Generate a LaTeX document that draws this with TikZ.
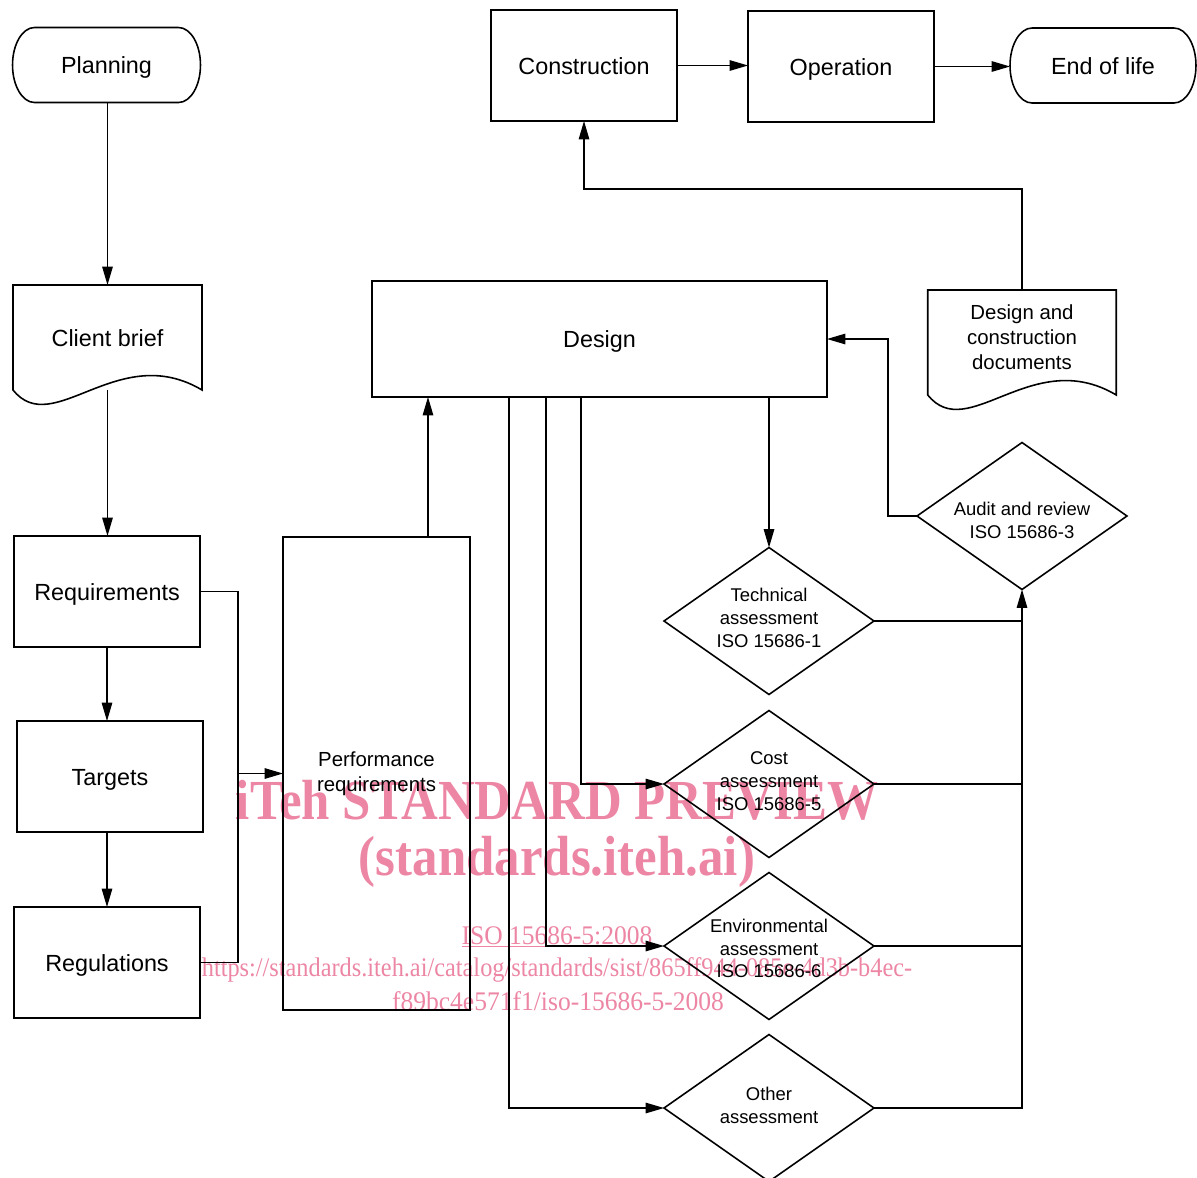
\documentclass[tikz,border=0pt]{standalone}
\usepackage{fontspec}
\setmainfont{Liberation Sans}
\newfontfamily\wmfont{Liberation Serif}
\usetikzlibrary{shapes.geometric,arrows.meta,calc}
\definecolor{wmpink}{RGB}{236,134,164}
\begin{document}
\begin{tikzpicture}[x=0.02cm,y=-0.02cm,
  every node/.style={inner sep=0pt,outer sep=0pt},
  conn/.style={line width=0.7pt},
  arr/.style={conn,-{Triangle[length=10.5pt,width=6pt]}},
  mainfont/.style={font=\fontsize{13.3}{16}\selectfont,text height=0.98em,text depth=0pt},
  boxnode/.style={draw,line width=0.9pt,rectangle,mainfont,minimum width=3.72cm,minimum height=2.22cm},
  termnode/.style={rectangle,mainfont,minimum width=3.76cm,minimum height=1.5cm},
  docnode/.style={rectangle,minimum width=3.77cm,minimum height=2.1cm},
  docfont/.style={align=center,font=\fontsize{11.6}{14.2}\selectfont},
  dia/.style={draw,line width=0.9pt,diamond,minimum width=4.2cm,minimum height=2.94cm},
  dialabel/.style={align=center,font=\fontsize{10.5}{13}\selectfont},
  wmbig/.style={text=wmpink,font=\wmfont\bfseries\fontsize{32.2}{34}\selectfont},
  wmsmall/.style={text=wmpink,font=\wmfont\fontsize{15.3}{17}\selectfont}
]
\useasboundingbox (0,0) rectangle (1197,1177);

% watermark (behind the diagram)
\node[wmbig] (wm1) at (557,800) {\scalebox{0.9}[1]{iTeh STANDARD PREVIEW}};
\node[wmbig] (wm2) at (557,862) {\scalebox{0.9}[1]{(standards.iteh.ai)}};
\node[wmsmall] (wm3) at (557,937) {\scalebox{0.95}[1]{\underline{ISO 15686-5:2008}}};
\node[wmsmall] (wm4) at (557,970) {\scalebox{0.905}[1]{https://standards.iteh.ai/catalog/standards/sist/865ff944-085e-4d3b-b4ec-}};
\node[wmsmall] (wm5) at (558,1001) {\scalebox{0.95}[1]{f89bc4e571f1/iso-15686-5-2008}};

% terminal shapes with elliptic ends
\node[termnode] (plan) at (106.5,65) {Planning};
\node[termnode,minimum width=3.72cm] (eol) at (1103,65.5) {End of life};
\foreach \n in {plan,eol}{
  \draw[line width=0.9pt] ([xshift=0.44cm]\n.north west) -- ([xshift=-0.44cm]\n.north east)
    arc[start angle=90,end angle=-90,x radius=0.44cm,y radius=0.75cm]
    -- ([xshift=0.44cm]\n.south west)
    arc[start angle=270,end angle=90,x radius=0.44cm,y radius=0.75cm] -- cycle;
}

% left column
\node[docnode,mainfont,minimum width=3.78cm] (cb) at (107.5,337.5) {Client brief};
\draw[line width=0.9pt] (cb.north west) -- (cb.south west)
  .. controls ($(cb.south west)+(40,50)$) and ($(cb.south east)+(-84,-50)$) .. (cb.south east)
  -- (cb.north east) -- cycle;
\node[boxnode] (req) at (107,591.5) {Requirements};
\node[boxnode] (tgt) at (110,776.5) {Targets};
\node[boxnode] (reg) at (107,962.5) {Regulations};
\node[draw,line width=0.9pt,rectangle,minimum width=3.74cm,minimum height=9.46cm,docfont] (perf) at (376.5,773.5) {Performance\\requirements};

% design and top row
\node[boxnode,minimum width=9.1cm,minimum height=2.32cm] (design) at (599.5,339) {Design};
\node[boxnode] (constr) at (584,65.5) {Construction};
\node[boxnode] (oper) at (841,66.5) {Operation};
\node[docnode,label={[docfont,yshift=0.1cm]center:Design and\\construction\\documents}] (docs) at (1022,342.5) {};
\draw[line width=0.9pt] (docs.north west) -- (docs.south west)
  .. controls ($(docs.south west)+(40,50)$) and ($(docs.south east)+(-84,-50)$) .. (docs.south east)
  -- (docs.north east) -- cycle;

% assessments
\node[dia,label={[dialabel,yshift=-0.08cm]center:Audit and review\\ISO 15686-3}] (aud) at (1022,516) {};
\node[dia,label={[dialabel,yshift=0.06cm]center:Technical\\assessment\\ISO 15686-1}] (tech) at (769,621) {};
\node[dia,label={[dialabel,yshift=0.06cm]center:Cost\\assessment\\ISO 15686-5}] (cost) at (769,784) {};
\node[dia,label={[dialabel,yshift=-0.05cm]center:Environmental\\assessment\\ISO 15686-6}] (env) at (769,946) {};
\node[dia,label={[dialabel,yshift=0.06cm]center:Other\\assessment}] (oth) at (769,1108) {};

% connectors
\draw[arr] (plan.south -| cb.north) -- (cb.north);
\draw[arr] (cb.south) -- (cb.south |- req.north);
\draw[arr] (req.south) -- (req.south |- tgt.north);
\draw[arr] (reg.north |- tgt.south) -- (reg.north);
\coordinate (bus) at (238,773.5);
\draw[conn] (req.east) -| (bus);
\draw[conn] (reg.east) -| (bus);
\draw[arr] (bus) -- (perf.west);
\draw[arr] ([xshift=1.03cm]perf.north) -- ([xshift=1.03cm]perf.north |- design.south);
\draw[arr] (design.south -| tech.north) -- (tech.north);
\draw[arr] ([xshift=-0.37cm]design.south) |- (cost.west);
\draw[arr] ([xshift=-1.07cm]design.south) |- (env.west);
\draw[arr] ([xshift=-1.81cm]design.south) |- (oth.west);
\draw[conn] (tech.east) -- (tech.east -| aud.south);
\draw[conn] (cost.east) -- (cost.east -| aud.south);
\draw[conn] (env.east) -- (env.east -| aud.south);
\draw[arr] (oth.east) -| (aud.south);
\draw[arr] (aud.west) -- ++(-29,0) |- (design.east);
\draw[arr] (docs.north) -- ++(0,-101) -| (constr.south);
\draw[arr] (constr.east) -- (constr.east -| oper.west);
\draw[arr] (oper.east) -- (oper.east -| eol.west);
\end{tikzpicture}
\end{document}
